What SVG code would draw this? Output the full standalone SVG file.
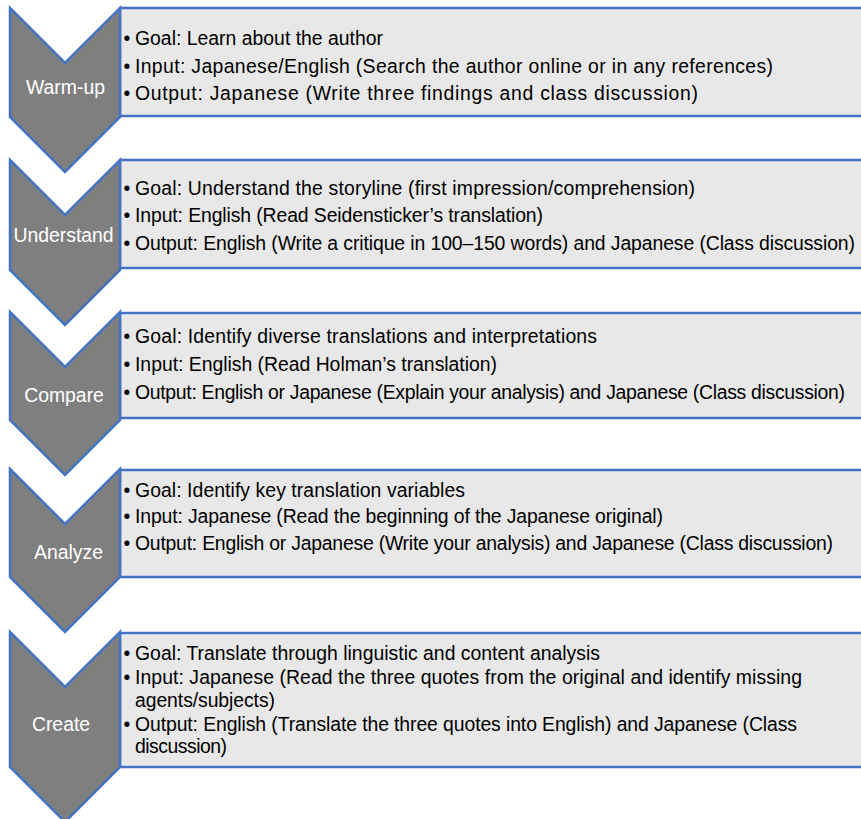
<svg xmlns="http://www.w3.org/2000/svg" width="861" height="819" viewBox="0 0 861 819">
<style>
.chev{fill:#7f7f7f;stroke:#4472c4;stroke-width:2.5;stroke-linejoin:miter}
.box{fill:#e8e8e8;stroke:#4472c4;stroke-width:2.5}
.lbl{font-family:"Liberation Sans",Arial,sans-serif;font-size:19.4px;fill:#ffffff;text-anchor:middle}
.t{font-family:"Liberation Sans",Arial,sans-serif;font-size:19.4px;fill:#000000}
</style>
<rect width="861" height="819" fill="#ffffff"/>
<g id="connectors"></g>

<g id="step1">
<rect class="box" x="120" y="8" width="745" height="108"/>
<polygon class="chev" points="10,8 65,63 120,8 120,117 65,172 10,117"/>
<text class="lbl" x="65.5" y="94">Warm-up</text>
<text class="t" x="123.5" y="45">•</text><text class="t" x="135" y="45" textLength="248" lengthAdjust="spacing">Goal: Learn about the author</text>
<text class="t" x="123.5" y="73">•</text><text class="t" x="135" y="73" textLength="638" lengthAdjust="spacing">Input: Japanese/English (Search the author online or in any references)</text>
<text class="t" x="123.5" y="100">•</text><text class="t" x="135" y="100" textLength="563" lengthAdjust="spacing">Output: Japanese (Write three findings and class discussion)</text>
</g>

<g id="step2">
<rect class="box" x="120" y="160" width="745" height="108"/>
<polygon class="chev" points="10,160 65,215 120,160 120,270 65,325 10,270"/>
<text class="lbl" x="63.5" y="242">Understand</text>
<text class="t" x="123.5" y="195">•</text><text class="t" x="135" y="195" textLength="560" lengthAdjust="spacing">Goal: Understand the storyline (first impression/comprehension)</text>
<text class="t" x="123.5" y="222">•</text><text class="t" x="135" y="222" textLength="408" lengthAdjust="spacing">Input: English (Read Seidensticker’s translation)</text>
<text class="t" x="123.5" y="250">•</text><text class="t" x="135" y="250" textLength="720" lengthAdjust="spacing">Output: English (Write a critique in 100–150 words) and Japanese (Class discussion)</text>
</g>

<g id="step3">
<rect class="box" x="120" y="313" width="745" height="105"/>
<polygon class="chev" points="10,312 65,367 120,312 120,420 65,475 10,420"/>
<text class="lbl" x="64" y="402">Compare</text>
<text class="t" x="123.5" y="343">•</text><text class="t" x="135" y="343" textLength="462" lengthAdjust="spacing">Goal: Identify diverse translations and interpretations</text>
<text class="t" x="123.5" y="371">•</text><text class="t" x="135" y="371" textLength="362" lengthAdjust="spacing">Input: English (Read Holman’s translation)</text>
<text class="t" x="123.5" y="399">•</text><text class="t" x="135" y="399" textLength="710" lengthAdjust="spacing">Output: English or Japanese (Explain your analysis) and Japanese (Class discussion)</text>
</g>

<g id="step4">
<rect class="box" x="120" y="470" width="745" height="107"/>
<polygon class="chev" points="10,469 65,524 120,469 120,577 65,632 10,577"/>
<text class="lbl" x="68.5" y="559">Analyze</text>
<text class="t" x="123.5" y="497">•</text><text class="t" x="135" y="497" textLength="330" lengthAdjust="spacing">Goal: Identify key translation variables</text>
<text class="t" x="123.5" y="523">•</text><text class="t" x="135" y="523" textLength="528" lengthAdjust="spacing">Input: Japanese (Read the beginning of the Japanese original)</text>
<text class="t" x="123.5" y="550">•</text><text class="t" x="135" y="550" textLength="698" lengthAdjust="spacing">Output: English or Japanese (Write your analysis) and Japanese (Class discussion)</text>
</g>

<g id="step5">
<rect class="box" x="120" y="633" width="745" height="134"/>
<polygon class="chev" points="10,632 65,687 120,632 120,767 65,822 10,767"/>
<text class="lbl" x="61" y="731">Create</text>
<text class="t" x="123.5" y="660">•</text><text class="t" x="135" y="660" textLength="465" lengthAdjust="spacing">Goal: Translate through linguistic and content analysis</text>
<text class="t" x="123.5" y="684">•</text><text class="t" x="135" y="684" textLength="667" lengthAdjust="spacing">Input: Japanese (Read the three quotes from the original and identify missing</text>
<text class="t" x="135" y="707" textLength="140" lengthAdjust="spacing">agents/subjects)</text>
<text class="t" x="123.5" y="731">•</text><text class="t" x="135" y="731" textLength="662" lengthAdjust="spacing">Output: English (Translate the three quotes into English) and Japanese (Class</text>
<text class="t" x="135" y="753" textLength="92" lengthAdjust="spacing">discussion)</text>
</g>
</svg>
